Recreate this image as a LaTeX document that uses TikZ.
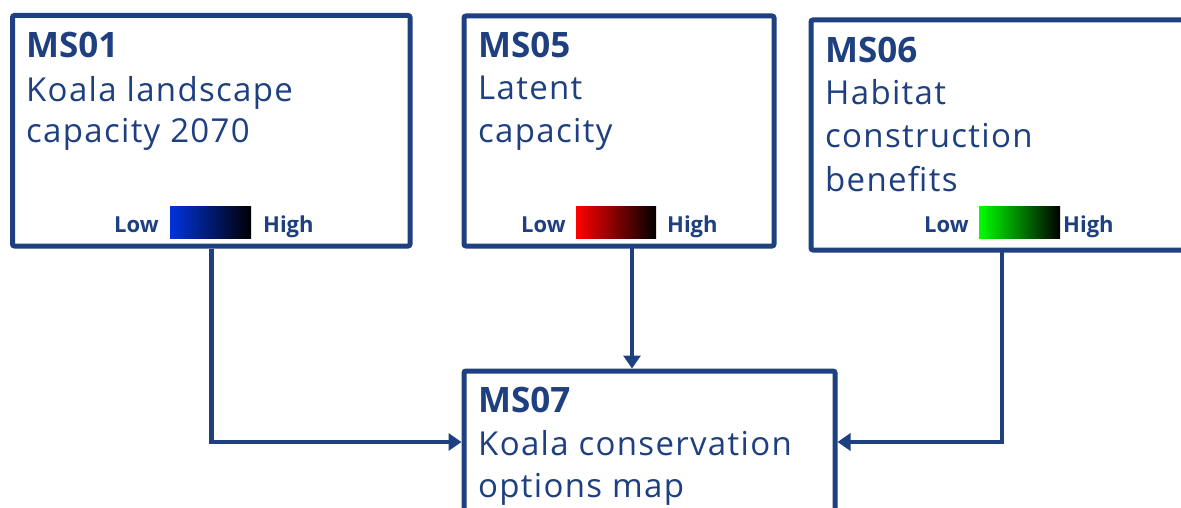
\documentclass[tikz,border=0pt]{standalone}
\usepackage{fontspec}
\setmainfont{Open Sans}
\newfontfamily\bodyfont[LetterSpace=4]{Open Sans}
\usetikzlibrary{arrows.meta}
\definecolor{navy}{HTML}{1E3F80}
\definecolor{lowblue}{HTML}{0033DD}
\tikzset{
  box/.style={draw=navy, line width=5pt, rounded corners=2pt, fill=white, inner sep=0pt},
  title/.style={anchor=base west, inner sep=0pt, text=navy, font=\fontsize{35}{40}\selectfont\bfseries},
  body/.style={anchor=base west, inner sep=0pt, text=navy, font=\bodyfont\fontsize{33}{36}\selectfont},
  legend/.style={anchor=base west, inner sep=0pt, text=navy, font=\fontsize{22}{26}\selectfont\bfseries},
  link/.style={draw=navy, line width=4.5pt, -{Triangle[length=13pt,width=17pt]}},
}
\begin{document}
\begin{tikzpicture}[x=1pt,y=-1pt]
  \useasboundingbox (0,0) rectangle (1181,508);
  \clip (0,0) rectangle (1181,508);

  % boxes
  \node[box, minimum width=397.5pt, minimum height=230.5pt] (b1) at (211.25,130.75) {};
  \node[box, minimum width=310pt, minimum height=230pt] (b5) at (619,131) {};
  \node[box, minimum width=400pt, minimum height=230pt] (b6) at (1011,135) {};
  \node[box, minimum width=371pt, minimum height=200pt] (b7) at (649.5,471) {};

  % box texts
  \node[title] (t1) at (26,58) {MS01};
  \node[body] (l1a) at (26,102) {Koala landscape};
  \node[body] (l1b) at (26,143) {capacity 2070};

  \node[title] (t5) at (478,58) {MS05};
  \node[body] (l5a) at (478,100) {Latent};
  \node[body] (l5b) at (478,143) {capacity};

  \node[title] (t6) at (825,63) {MS06};
  \node[body] (l6a) at (825,105) {Habitat};
  \node[body] (l6b) at (825,148) {construction};
  \node[body] (l6c) at (825,192) {benefits};

  \node[title] (t7) at (478,412) {MS07};
  \node[body] (l7a) at (478,455) {Koala conservation};
  \node[body] (l7b) at (478,497) {options map};

  % colour scales
  \node[legend] (lo1) at (114,232) {Low};
  \shade[left color=lowblue, right color=black] (170,206) rectangle (251,238);
  \node[legend] (hi1) at (263,232) {High};

  \node[legend] (lo5) at (521,232) {Low};
  \shade[left color=red, right color=black] (576,206) rectangle (656,238);
  \node[legend] (hi5) at (667,232) {High};

  \node[legend] (lo6) at (924,232) {Low};
  \shade[left color=green, right color=black] (979,206) rectangle (1060,238);
  \node[legend] (hi6) at (1063,232) {High};

  % connectors
  \coordinate (c5) at (632,246);
  \coordinate (c6) at (1002,250);
  \draw[link] (b1.south) |- (b7.west |- 0,442);
  \draw[link] (c5) -- (c5 |- b7.north);
  \draw[link] (c6) |- (b7.east |- 0,442);
\end{tikzpicture}
\end{document}
